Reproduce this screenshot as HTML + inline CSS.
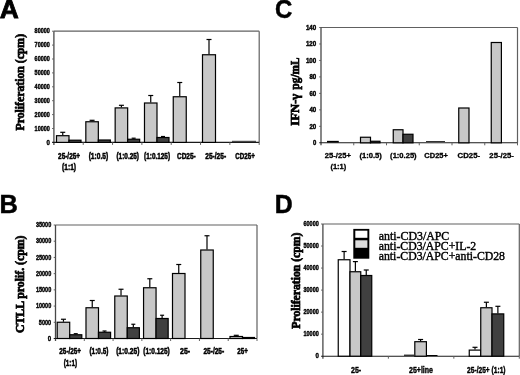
<!DOCTYPE html><html><head><meta charset="utf-8"><style>html,body{margin:0;padding:0;background:#fff}svg{display:block;filter:grayscale(1)}</style></head><body>
<svg width="520" height="375" viewBox="0 0 520 375">
<rect width="520" height="375" fill="#fff"/>
<text x="-0.30" y="18.30" font-size="26.4" text-anchor="start" font-weight="bold" font-family="Liberation Sans" stroke="#000" stroke-width="0.8">A</text>
<text x="-0.40" y="212.60" font-size="25.4" text-anchor="start" font-weight="bold" font-family="Liberation Sans" stroke="#000" stroke-width="0.5">B</text>
<text x="274.90" y="18.40" font-size="25.2" text-anchor="start" font-weight="bold" font-family="Liberation Sans" textLength="17.30" lengthAdjust="spacingAndGlyphs" stroke="#000" stroke-width="0.5">C</text>
<text x="274.80" y="212.60" font-size="25.3" text-anchor="start" font-weight="bold" font-family="Liberation Sans" textLength="17.90" lengthAdjust="spacingAndGlyphs" stroke="#000" stroke-width="0.5">D</text>
<line x1="53.90" y1="31.20" x2="259.20" y2="31.20" stroke="#606060" stroke-width="1.2"/>
<line x1="259.20" y1="31.20" x2="259.20" y2="142.40" stroke="#606060" stroke-width="1.2"/>
<line x1="53.90" y1="31.20" x2="53.90" y2="144.90" stroke="#484848" stroke-width="1.3"/>
<line x1="52.10" y1="142.40" x2="259.20" y2="142.40" stroke="#1a1a1a" stroke-width="1.1"/>
<line x1="83.23" y1="142.40" x2="83.23" y2="144.90" stroke="#606060" stroke-width="1"/>
<line x1="112.56" y1="142.40" x2="112.56" y2="144.90" stroke="#606060" stroke-width="1"/>
<line x1="141.89" y1="142.40" x2="141.89" y2="144.90" stroke="#606060" stroke-width="1"/>
<line x1="171.21" y1="142.40" x2="171.21" y2="144.90" stroke="#606060" stroke-width="1"/>
<line x1="200.54" y1="142.40" x2="200.54" y2="144.90" stroke="#606060" stroke-width="1"/>
<line x1="229.87" y1="142.40" x2="229.87" y2="144.90" stroke="#606060" stroke-width="1"/>
<line x1="259.20" y1="142.40" x2="259.20" y2="144.90" stroke="#606060" stroke-width="1"/>
<line x1="52.10" y1="128.50" x2="53.90" y2="128.50" stroke="#606060" stroke-width="1"/>
<line x1="52.10" y1="114.60" x2="53.90" y2="114.60" stroke="#606060" stroke-width="1"/>
<line x1="52.10" y1="100.70" x2="53.90" y2="100.70" stroke="#606060" stroke-width="1"/>
<line x1="52.10" y1="86.80" x2="53.90" y2="86.80" stroke="#606060" stroke-width="1"/>
<line x1="52.10" y1="72.90" x2="53.90" y2="72.90" stroke="#606060" stroke-width="1"/>
<line x1="52.10" y1="59.00" x2="53.90" y2="59.00" stroke="#606060" stroke-width="1"/>
<line x1="52.10" y1="45.10" x2="53.90" y2="45.10" stroke="#606060" stroke-width="1"/>
<line x1="52.10" y1="31.20" x2="53.90" y2="31.20" stroke="#606060" stroke-width="1"/>
<text x="49.90" y="144.65" font-size="7.9" text-anchor="end" font-weight="bold" font-family="Liberation Sans" textLength="3.40" lengthAdjust="spacingAndGlyphs" stroke="#000" stroke-width="0.45">0</text>
<text x="49.90" y="130.75" font-size="7.9" text-anchor="end" font-weight="bold" font-family="Liberation Sans" textLength="15.30" lengthAdjust="spacingAndGlyphs" stroke="#000" stroke-width="0.45">10000</text>
<text x="49.90" y="116.85" font-size="7.9" text-anchor="end" font-weight="bold" font-family="Liberation Sans" textLength="15.30" lengthAdjust="spacingAndGlyphs" stroke="#000" stroke-width="0.45">20000</text>
<text x="49.90" y="102.95" font-size="7.9" text-anchor="end" font-weight="bold" font-family="Liberation Sans" textLength="15.30" lengthAdjust="spacingAndGlyphs" stroke="#000" stroke-width="0.45">30000</text>
<text x="49.90" y="89.05" font-size="7.9" text-anchor="end" font-weight="bold" font-family="Liberation Sans" textLength="15.30" lengthAdjust="spacingAndGlyphs" stroke="#000" stroke-width="0.45">40000</text>
<text x="49.90" y="75.15" font-size="7.9" text-anchor="end" font-weight="bold" font-family="Liberation Sans" textLength="15.30" lengthAdjust="spacingAndGlyphs" stroke="#000" stroke-width="0.45">50000</text>
<text x="49.90" y="61.25" font-size="7.9" text-anchor="end" font-weight="bold" font-family="Liberation Sans" textLength="15.30" lengthAdjust="spacingAndGlyphs" stroke="#000" stroke-width="0.45">60000</text>
<text x="49.90" y="47.35" font-size="7.9" text-anchor="end" font-weight="bold" font-family="Liberation Sans" textLength="15.30" lengthAdjust="spacingAndGlyphs" stroke="#000" stroke-width="0.45">70000</text>
<text x="49.90" y="33.45" font-size="7.9" text-anchor="end" font-weight="bold" font-family="Liberation Sans" textLength="15.30" lengthAdjust="spacingAndGlyphs" stroke="#000" stroke-width="0.45">80000</text>
<line x1="62.75" y1="132.30" x2="62.75" y2="135.20" stroke="#000" stroke-width="1.2"/>
<line x1="60.25" y1="132.30" x2="65.25" y2="132.30" stroke="#000" stroke-width="1.2"/>
<rect x="56.50" y="135.70" width="12.50" height="6.70" fill="#c8c8c8" stroke="#000" stroke-width="1.2"/>
<rect x="69.00" y="140.20" width="12.00" height="2.20" fill="#404040" stroke="#000" stroke-width="1.2"/>
<line x1="92.08" y1="120.30" x2="92.08" y2="121.25" stroke="#000" stroke-width="1.2"/>
<line x1="89.58" y1="120.30" x2="94.58" y2="120.30" stroke="#000" stroke-width="1.2"/>
<rect x="85.83" y="121.75" width="12.50" height="20.65" fill="#c8c8c8" stroke="#000" stroke-width="1.2"/>
<rect x="98.33" y="140.00" width="12.00" height="2.40" fill="#404040" stroke="#000" stroke-width="1.2"/>
<line x1="121.41" y1="105.30" x2="121.41" y2="107.40" stroke="#000" stroke-width="1.2"/>
<line x1="118.91" y1="105.30" x2="123.91" y2="105.30" stroke="#000" stroke-width="1.2"/>
<rect x="115.16" y="107.90" width="12.50" height="34.50" fill="#c8c8c8" stroke="#000" stroke-width="1.2"/>
<line x1="133.66" y1="138.20" x2="133.66" y2="138.75" stroke="#000" stroke-width="1.2"/>
<line x1="131.66" y1="138.20" x2="135.66" y2="138.20" stroke="#000" stroke-width="1.2"/>
<rect x="127.66" y="139.25" width="12.00" height="3.15" fill="#404040" stroke="#000" stroke-width="1.2"/>
<line x1="150.74" y1="95.50" x2="150.74" y2="102.50" stroke="#000" stroke-width="1.2"/>
<line x1="148.24" y1="95.50" x2="153.24" y2="95.50" stroke="#000" stroke-width="1.2"/>
<rect x="144.49" y="103.00" width="12.50" height="39.40" fill="#c8c8c8" stroke="#000" stroke-width="1.2"/>
<line x1="162.99" y1="136.50" x2="162.99" y2="137.00" stroke="#000" stroke-width="1.2"/>
<line x1="160.99" y1="136.50" x2="164.99" y2="136.50" stroke="#000" stroke-width="1.2"/>
<rect x="156.99" y="137.50" width="12.00" height="4.90" fill="#404040" stroke="#000" stroke-width="1.2"/>
<line x1="179.75" y1="82.50" x2="179.75" y2="96.25" stroke="#000" stroke-width="1.2"/>
<line x1="177.25" y1="82.50" x2="182.25" y2="82.50" stroke="#000" stroke-width="1.2"/>
<rect x="173.25" y="96.75" width="13.00" height="45.65" fill="#c8c8c8" stroke="#000" stroke-width="1.2"/>
<line x1="209.00" y1="39.50" x2="209.00" y2="54.25" stroke="#000" stroke-width="1.2"/>
<line x1="206.50" y1="39.50" x2="211.50" y2="39.50" stroke="#000" stroke-width="1.2"/>
<rect x="202.50" y="54.75" width="13.00" height="87.65" fill="#c8c8c8" stroke="#000" stroke-width="1.2"/>
<line x1="232.00" y1="141.30" x2="256.00" y2="141.30" stroke="#000" stroke-width="0.8"/>
<text x="69.06" y="158.70" font-size="8.5" text-anchor="middle" font-weight="bold" font-family="Liberation Sans" textLength="22.00" lengthAdjust="spacingAndGlyphs" stroke="#000" stroke-width="0.5">25-/25+</text>
<text x="98.39" y="158.70" font-size="8.5" text-anchor="middle" font-weight="bold" font-family="Liberation Sans" textLength="19.50" lengthAdjust="spacingAndGlyphs" stroke="#000" stroke-width="0.5">(1:0.5)</text>
<text x="127.72" y="158.70" font-size="8.5" text-anchor="middle" font-weight="bold" font-family="Liberation Sans" textLength="22.50" lengthAdjust="spacingAndGlyphs" stroke="#000" stroke-width="0.5">(1:0.25)</text>
<text x="157.05" y="158.70" font-size="8.5" text-anchor="middle" font-weight="bold" font-family="Liberation Sans" textLength="26.00" lengthAdjust="spacingAndGlyphs" stroke="#000" stroke-width="0.5">(1:0.125)</text>
<text x="186.38" y="158.70" font-size="8.5" text-anchor="middle" font-weight="bold" font-family="Liberation Sans" textLength="18.75" lengthAdjust="spacingAndGlyphs" stroke="#000" stroke-width="0.5">CD25-</text>
<text x="215.71" y="158.70" font-size="8.5" text-anchor="middle" font-weight="bold" font-family="Liberation Sans" textLength="20.75" lengthAdjust="spacingAndGlyphs" stroke="#000" stroke-width="0.5">25-/25-</text>
<text x="245.04" y="158.70" font-size="8.5" text-anchor="middle" font-weight="bold" font-family="Liberation Sans" textLength="19.50" lengthAdjust="spacingAndGlyphs" stroke="#000" stroke-width="0.5">CD25+</text>
<text x="69.06" y="169.60" font-size="8.5" text-anchor="middle" font-weight="bold" font-family="Liberation Sans" textLength="14.00" lengthAdjust="spacingAndGlyphs" stroke="#000" stroke-width="0.5">(1:1)</text>
<text transform="translate(24.20,82.20) rotate(-90)" font-size="12" text-anchor="middle" font-weight="bold" font-family="Liberation Serif" stroke="#000" stroke-width="0.7" textLength="96.50" lengthAdjust="spacingAndGlyphs">Proliferation (cpm)</text>
<line x1="55.50" y1="225.00" x2="257.00" y2="225.00" stroke="#606060" stroke-width="1.2"/>
<line x1="257.00" y1="225.00" x2="257.00" y2="338.50" stroke="#606060" stroke-width="1.2"/>
<line x1="55.50" y1="225.00" x2="55.50" y2="341.00" stroke="#484848" stroke-width="1.3"/>
<line x1="53.70" y1="338.50" x2="257.00" y2="338.50" stroke="#1a1a1a" stroke-width="1.1"/>
<line x1="84.29" y1="338.50" x2="84.29" y2="341.00" stroke="#606060" stroke-width="1"/>
<line x1="113.07" y1="338.50" x2="113.07" y2="341.00" stroke="#606060" stroke-width="1"/>
<line x1="141.86" y1="338.50" x2="141.86" y2="341.00" stroke="#606060" stroke-width="1"/>
<line x1="170.64" y1="338.50" x2="170.64" y2="341.00" stroke="#606060" stroke-width="1"/>
<line x1="199.43" y1="338.50" x2="199.43" y2="341.00" stroke="#606060" stroke-width="1"/>
<line x1="228.21" y1="338.50" x2="228.21" y2="341.00" stroke="#606060" stroke-width="1"/>
<line x1="257.00" y1="338.50" x2="257.00" y2="341.00" stroke="#606060" stroke-width="1"/>
<line x1="53.70" y1="322.29" x2="55.50" y2="322.29" stroke="#606060" stroke-width="1"/>
<line x1="53.70" y1="306.07" x2="55.50" y2="306.07" stroke="#606060" stroke-width="1"/>
<line x1="53.70" y1="289.86" x2="55.50" y2="289.86" stroke="#606060" stroke-width="1"/>
<line x1="53.70" y1="273.64" x2="55.50" y2="273.64" stroke="#606060" stroke-width="1"/>
<line x1="53.70" y1="257.43" x2="55.50" y2="257.43" stroke="#606060" stroke-width="1"/>
<line x1="53.70" y1="241.21" x2="55.50" y2="241.21" stroke="#606060" stroke-width="1"/>
<line x1="53.70" y1="225.00" x2="55.50" y2="225.00" stroke="#606060" stroke-width="1"/>
<text x="51.20" y="340.75" font-size="7.9" text-anchor="end" font-weight="bold" font-family="Liberation Sans" textLength="3.40" lengthAdjust="spacingAndGlyphs" stroke="#000" stroke-width="0.45">0</text>
<text x="51.20" y="324.54" font-size="7.9" text-anchor="end" font-weight="bold" font-family="Liberation Sans" textLength="12.40" lengthAdjust="spacingAndGlyphs" stroke="#000" stroke-width="0.45">5000</text>
<text x="51.20" y="308.32" font-size="7.9" text-anchor="end" font-weight="bold" font-family="Liberation Sans" textLength="15.30" lengthAdjust="spacingAndGlyphs" stroke="#000" stroke-width="0.45">10000</text>
<text x="51.20" y="292.11" font-size="7.9" text-anchor="end" font-weight="bold" font-family="Liberation Sans" textLength="15.30" lengthAdjust="spacingAndGlyphs" stroke="#000" stroke-width="0.45">15000</text>
<text x="51.20" y="275.89" font-size="7.9" text-anchor="end" font-weight="bold" font-family="Liberation Sans" textLength="15.30" lengthAdjust="spacingAndGlyphs" stroke="#000" stroke-width="0.45">20000</text>
<text x="51.20" y="259.68" font-size="7.9" text-anchor="end" font-weight="bold" font-family="Liberation Sans" textLength="15.30" lengthAdjust="spacingAndGlyphs" stroke="#000" stroke-width="0.45">25000</text>
<text x="51.20" y="243.46" font-size="7.9" text-anchor="end" font-weight="bold" font-family="Liberation Sans" textLength="15.30" lengthAdjust="spacingAndGlyphs" stroke="#000" stroke-width="0.45">30000</text>
<text x="51.20" y="227.25" font-size="7.9" text-anchor="end" font-weight="bold" font-family="Liberation Sans" textLength="15.30" lengthAdjust="spacingAndGlyphs" stroke="#000" stroke-width="0.45">35000</text>
<line x1="63.45" y1="319.25" x2="63.45" y2="321.75" stroke="#000" stroke-width="1.2"/>
<line x1="60.95" y1="319.25" x2="65.95" y2="319.25" stroke="#000" stroke-width="1.2"/>
<rect x="57.20" y="322.25" width="12.50" height="16.25" fill="#c8c8c8" stroke="#000" stroke-width="1.2"/>
<line x1="75.75" y1="333.70" x2="75.75" y2="334.25" stroke="#000" stroke-width="1.2"/>
<line x1="73.75" y1="333.70" x2="77.75" y2="333.70" stroke="#000" stroke-width="1.2"/>
<rect x="69.70" y="334.75" width="12.10" height="3.75" fill="#404040" stroke="#000" stroke-width="1.2"/>
<line x1="92.24" y1="300.50" x2="92.24" y2="307.25" stroke="#000" stroke-width="1.2"/>
<line x1="89.74" y1="300.50" x2="94.74" y2="300.50" stroke="#000" stroke-width="1.2"/>
<rect x="85.99" y="307.75" width="12.50" height="30.75" fill="#c8c8c8" stroke="#000" stroke-width="1.2"/>
<line x1="104.54" y1="331.00" x2="104.54" y2="331.75" stroke="#000" stroke-width="1.2"/>
<line x1="102.54" y1="331.00" x2="106.54" y2="331.00" stroke="#000" stroke-width="1.2"/>
<rect x="98.49" y="332.25" width="12.10" height="6.25" fill="#404040" stroke="#000" stroke-width="1.2"/>
<line x1="121.02" y1="289.25" x2="121.02" y2="295.50" stroke="#000" stroke-width="1.2"/>
<line x1="118.52" y1="289.25" x2="123.52" y2="289.25" stroke="#000" stroke-width="1.2"/>
<rect x="114.77" y="296.00" width="12.50" height="42.50" fill="#c8c8c8" stroke="#000" stroke-width="1.2"/>
<line x1="133.32" y1="324.25" x2="133.32" y2="327.25" stroke="#000" stroke-width="1.2"/>
<line x1="131.32" y1="324.25" x2="135.32" y2="324.25" stroke="#000" stroke-width="1.2"/>
<rect x="127.27" y="327.75" width="12.10" height="10.75" fill="#404040" stroke="#000" stroke-width="1.2"/>
<line x1="149.81" y1="278.75" x2="149.81" y2="287.25" stroke="#000" stroke-width="1.2"/>
<line x1="147.31" y1="278.75" x2="152.31" y2="278.75" stroke="#000" stroke-width="1.2"/>
<rect x="143.56" y="287.75" width="12.50" height="50.75" fill="#c8c8c8" stroke="#000" stroke-width="1.2"/>
<line x1="162.11" y1="315.25" x2="162.11" y2="318.00" stroke="#000" stroke-width="1.2"/>
<line x1="160.11" y1="315.25" x2="164.11" y2="315.25" stroke="#000" stroke-width="1.2"/>
<rect x="156.06" y="318.50" width="12.10" height="20.00" fill="#404040" stroke="#000" stroke-width="1.2"/>
<line x1="178.75" y1="264.50" x2="178.75" y2="273.00" stroke="#000" stroke-width="1.2"/>
<line x1="176.25" y1="264.50" x2="181.25" y2="264.50" stroke="#000" stroke-width="1.2"/>
<rect x="172.50" y="273.50" width="12.50" height="65.00" fill="#c8c8c8" stroke="#000" stroke-width="1.2"/>
<line x1="207.00" y1="235.75" x2="207.00" y2="249.50" stroke="#000" stroke-width="1.2"/>
<line x1="204.50" y1="235.75" x2="209.50" y2="235.75" stroke="#000" stroke-width="1.2"/>
<rect x="200.75" y="250.00" width="12.50" height="88.50" fill="#c8c8c8" stroke="#000" stroke-width="1.2"/>
<line x1="236.25" y1="335.30" x2="236.25" y2="336.00" stroke="#000" stroke-width="1.2"/>
<line x1="233.75" y1="335.30" x2="238.75" y2="335.30" stroke="#000" stroke-width="1.2"/>
<rect x="230.00" y="336.50" width="12.50" height="2.00" fill="#c8c8c8" stroke="#000" stroke-width="1.2"/>
<rect x="242.50" y="337.50" width="12.00" height="1.00" fill="#404040" stroke="#000" stroke-width="1.2"/>
<text x="70.19" y="354.30" font-size="8.5" text-anchor="middle" font-weight="bold" font-family="Liberation Sans" textLength="21.75" lengthAdjust="spacingAndGlyphs" stroke="#000" stroke-width="0.5">25-/25+</text>
<text x="98.98" y="354.30" font-size="8.5" text-anchor="middle" font-weight="bold" font-family="Liberation Sans" textLength="19.00" lengthAdjust="spacingAndGlyphs" stroke="#000" stroke-width="0.5">(1:0.5)</text>
<text x="127.76" y="354.30" font-size="8.5" text-anchor="middle" font-weight="bold" font-family="Liberation Sans" textLength="23.25" lengthAdjust="spacingAndGlyphs" stroke="#000" stroke-width="0.5">(1:0.25)</text>
<text x="156.55" y="354.30" font-size="8.5" text-anchor="middle" font-weight="bold" font-family="Liberation Sans" textLength="26.50" lengthAdjust="spacingAndGlyphs" stroke="#000" stroke-width="0.5">(1:0.125)</text>
<text x="185.04" y="354.30" font-size="8.5" text-anchor="middle" font-weight="bold" font-family="Liberation Sans" textLength="10.00" lengthAdjust="spacingAndGlyphs" stroke="#000" stroke-width="0.5">25-</text>
<text x="213.82" y="354.30" font-size="8.5" text-anchor="middle" font-weight="bold" font-family="Liberation Sans" textLength="20.75" lengthAdjust="spacingAndGlyphs" stroke="#000" stroke-width="0.5">25-/25-</text>
<text x="242.61" y="354.30" font-size="8.5" text-anchor="middle" font-weight="bold" font-family="Liberation Sans" textLength="10.50" lengthAdjust="spacingAndGlyphs" stroke="#000" stroke-width="0.5">25+</text>
<text x="70.39" y="366.20" font-size="8.5" text-anchor="middle" font-weight="bold" font-family="Liberation Sans" textLength="13.25" lengthAdjust="spacingAndGlyphs" stroke="#000" stroke-width="0.5">(1:1)</text>
<text transform="translate(24.20,284.30) rotate(-90)" font-size="12" text-anchor="middle" font-weight="bold" font-family="Liberation Serif" stroke="#000" stroke-width="0.7" textLength="97.50" lengthAdjust="spacingAndGlyphs">CTLL prolif. (cpm)</text>
<line x1="321.00" y1="27.50" x2="517.50" y2="27.50" stroke="#606060" stroke-width="1.2"/>
<line x1="517.50" y1="27.50" x2="517.50" y2="142.80" stroke="#606060" stroke-width="1.2"/>
<line x1="321.00" y1="27.50" x2="321.00" y2="145.30" stroke="#484848" stroke-width="1.3"/>
<line x1="319.20" y1="142.80" x2="517.50" y2="142.80" stroke="#1a1a1a" stroke-width="1.1"/>
<line x1="353.75" y1="142.80" x2="353.75" y2="145.30" stroke="#606060" stroke-width="1"/>
<line x1="386.50" y1="142.80" x2="386.50" y2="145.30" stroke="#606060" stroke-width="1"/>
<line x1="419.25" y1="142.80" x2="419.25" y2="145.30" stroke="#606060" stroke-width="1"/>
<line x1="452.00" y1="142.80" x2="452.00" y2="145.30" stroke="#606060" stroke-width="1"/>
<line x1="484.75" y1="142.80" x2="484.75" y2="145.30" stroke="#606060" stroke-width="1"/>
<line x1="517.50" y1="142.80" x2="517.50" y2="145.30" stroke="#606060" stroke-width="1"/>
<line x1="319.20" y1="126.33" x2="321.00" y2="126.33" stroke="#606060" stroke-width="1"/>
<line x1="319.20" y1="109.86" x2="321.00" y2="109.86" stroke="#606060" stroke-width="1"/>
<line x1="319.20" y1="93.39" x2="321.00" y2="93.39" stroke="#606060" stroke-width="1"/>
<line x1="319.20" y1="76.91" x2="321.00" y2="76.91" stroke="#606060" stroke-width="1"/>
<line x1="319.20" y1="60.44" x2="321.00" y2="60.44" stroke="#606060" stroke-width="1"/>
<line x1="319.20" y1="43.97" x2="321.00" y2="43.97" stroke="#606060" stroke-width="1"/>
<line x1="319.20" y1="27.50" x2="321.00" y2="27.50" stroke="#606060" stroke-width="1"/>
<text x="316.20" y="145.20" font-size="7.2" text-anchor="end" font-weight="bold" font-family="Liberation Sans" textLength="3.30" lengthAdjust="spacingAndGlyphs" stroke="#000" stroke-width="0.45">0</text>
<text x="316.20" y="128.73" font-size="7.2" text-anchor="end" font-weight="bold" font-family="Liberation Sans" textLength="6.80" lengthAdjust="spacingAndGlyphs" stroke="#000" stroke-width="0.45">20</text>
<text x="316.20" y="112.26" font-size="7.2" text-anchor="end" font-weight="bold" font-family="Liberation Sans" textLength="6.80" lengthAdjust="spacingAndGlyphs" stroke="#000" stroke-width="0.45">40</text>
<text x="316.20" y="95.79" font-size="7.2" text-anchor="end" font-weight="bold" font-family="Liberation Sans" textLength="6.80" lengthAdjust="spacingAndGlyphs" stroke="#000" stroke-width="0.45">60</text>
<text x="316.20" y="79.31" font-size="7.2" text-anchor="end" font-weight="bold" font-family="Liberation Sans" textLength="6.80" lengthAdjust="spacingAndGlyphs" stroke="#000" stroke-width="0.45">80</text>
<text x="316.20" y="62.84" font-size="7.2" text-anchor="end" font-weight="bold" font-family="Liberation Sans" textLength="10.30" lengthAdjust="spacingAndGlyphs" stroke="#000" stroke-width="0.45">100</text>
<text x="316.20" y="46.37" font-size="7.2" text-anchor="end" font-weight="bold" font-family="Liberation Sans" textLength="10.30" lengthAdjust="spacingAndGlyphs" stroke="#000" stroke-width="0.45">120</text>
<text x="316.20" y="29.90" font-size="7.2" text-anchor="end" font-weight="bold" font-family="Liberation Sans" textLength="10.30" lengthAdjust="spacingAndGlyphs" stroke="#000" stroke-width="0.45">140</text>
<line x1="327.00" y1="141.70" x2="338.80" y2="141.70" stroke="#000" stroke-width="1.7"/>
<rect x="360.50" y="137.25" width="10.00" height="5.55" fill="#c8c8c8" stroke="#000" stroke-width="1.2"/>
<rect x="370.50" y="141.25" width="9.50" height="1.55" fill="#404040" stroke="#000" stroke-width="1.2"/>
<rect x="393.25" y="129.75" width="9.75" height="13.05" fill="#c8c8c8" stroke="#000" stroke-width="1.2"/>
<rect x="403.00" y="134.25" width="10.00" height="8.55" fill="#404040" stroke="#000" stroke-width="1.2"/>
<line x1="426.00" y1="141.50" x2="445.00" y2="141.50" stroke="#000" stroke-width="0.8"/>
<rect x="458.75" y="108.00" width="10.25" height="34.80" fill="#c8c8c8" stroke="#000" stroke-width="1.2"/>
<rect x="491.25" y="42.50" width="10.15" height="100.30" fill="#c8c8c8" stroke="#000" stroke-width="1.2"/>
<text x="337.88" y="157.70" font-size="7.3" text-anchor="middle" font-weight="bold" font-family="Liberation Sans" textLength="26.00" lengthAdjust="spacingAndGlyphs" stroke="#000" stroke-width="0.3">25-/25+</text>
<text x="370.62" y="157.70" font-size="7.3" text-anchor="middle" font-weight="bold" font-family="Liberation Sans" textLength="22.40" lengthAdjust="spacingAndGlyphs" stroke="#000" stroke-width="0.3">(1:0.5)</text>
<text x="403.38" y="157.70" font-size="7.3" text-anchor="middle" font-weight="bold" font-family="Liberation Sans" textLength="26.50" lengthAdjust="spacingAndGlyphs" stroke="#000" stroke-width="0.3">(1:0.25)</text>
<text x="436.12" y="157.70" font-size="7.3" text-anchor="middle" font-weight="bold" font-family="Liberation Sans" textLength="23.50" lengthAdjust="spacingAndGlyphs" stroke="#000" stroke-width="0.3">CD25+</text>
<text x="468.88" y="157.70" font-size="7.3" text-anchor="middle" font-weight="bold" font-family="Liberation Sans" textLength="22.50" lengthAdjust="spacingAndGlyphs" stroke="#000" stroke-width="0.3">CD25-</text>
<text x="501.62" y="157.70" font-size="7.3" text-anchor="middle" font-weight="bold" font-family="Liberation Sans" textLength="24.50" lengthAdjust="spacingAndGlyphs" stroke="#000" stroke-width="0.3">25-/25-</text>
<text x="338.38" y="168.80" font-size="7.3" text-anchor="middle" font-weight="bold" font-family="Liberation Sans" textLength="15.80" lengthAdjust="spacingAndGlyphs" stroke="#000" stroke-width="0.3">(1:1)</text>
<text transform="translate(298.70,109.70) rotate(-90)" font-size="12" text-anchor="middle" font-weight="bold" font-family="Liberation Serif" stroke="#000" stroke-width="0.7" textLength="32.00" lengthAdjust="spacingAndGlyphs">IFN-γ</text>
<text transform="translate(298.70,73.50) rotate(-90)" font-size="12" text-anchor="middle" font-weight="bold" font-family="Liberation Serif" stroke="#000" stroke-width="0.7" textLength="31.80" lengthAdjust="spacingAndGlyphs">pg/mL</text>
<line x1="322.90" y1="224.00" x2="519.30" y2="224.00" stroke="#606060" stroke-width="1.2"/>
<line x1="519.30" y1="224.00" x2="519.30" y2="356.20" stroke="#606060" stroke-width="1.2"/>
<line x1="322.90" y1="224.00" x2="322.90" y2="358.70" stroke="#484848" stroke-width="1.3"/>
<line x1="321.10" y1="356.20" x2="519.30" y2="356.20" stroke="#1a1a1a" stroke-width="1.1"/>
<line x1="388.37" y1="356.20" x2="388.37" y2="358.70" stroke="#606060" stroke-width="1"/>
<line x1="453.83" y1="356.20" x2="453.83" y2="358.70" stroke="#606060" stroke-width="1"/>
<line x1="519.30" y1="356.20" x2="519.30" y2="358.70" stroke="#606060" stroke-width="1"/>
<line x1="321.10" y1="334.17" x2="322.90" y2="334.17" stroke="#606060" stroke-width="1"/>
<line x1="321.10" y1="312.13" x2="322.90" y2="312.13" stroke="#606060" stroke-width="1"/>
<line x1="321.10" y1="290.10" x2="322.90" y2="290.10" stroke="#606060" stroke-width="1"/>
<line x1="321.10" y1="268.07" x2="322.90" y2="268.07" stroke="#606060" stroke-width="1"/>
<line x1="321.10" y1="246.03" x2="322.90" y2="246.03" stroke="#606060" stroke-width="1"/>
<line x1="321.10" y1="224.00" x2="322.90" y2="224.00" stroke="#606060" stroke-width="1"/>
<text x="318.80" y="358.45" font-size="7.9" text-anchor="end" font-weight="bold" font-family="Liberation Sans" textLength="3.40" lengthAdjust="spacingAndGlyphs" stroke="#000" stroke-width="0.45">0</text>
<text x="318.80" y="336.42" font-size="7.9" text-anchor="end" font-weight="bold" font-family="Liberation Sans" textLength="15.30" lengthAdjust="spacingAndGlyphs" stroke="#000" stroke-width="0.45">10000</text>
<text x="318.80" y="314.38" font-size="7.9" text-anchor="end" font-weight="bold" font-family="Liberation Sans" textLength="15.30" lengthAdjust="spacingAndGlyphs" stroke="#000" stroke-width="0.45">20000</text>
<text x="318.80" y="292.35" font-size="7.9" text-anchor="end" font-weight="bold" font-family="Liberation Sans" textLength="15.30" lengthAdjust="spacingAndGlyphs" stroke="#000" stroke-width="0.45">30000</text>
<text x="318.80" y="270.32" font-size="7.9" text-anchor="end" font-weight="bold" font-family="Liberation Sans" textLength="15.30" lengthAdjust="spacingAndGlyphs" stroke="#000" stroke-width="0.45">40000</text>
<text x="318.80" y="248.28" font-size="7.9" text-anchor="end" font-weight="bold" font-family="Liberation Sans" textLength="15.30" lengthAdjust="spacingAndGlyphs" stroke="#000" stroke-width="0.45">50000</text>
<text x="318.80" y="226.25" font-size="7.9" text-anchor="end" font-weight="bold" font-family="Liberation Sans" textLength="15.30" lengthAdjust="spacingAndGlyphs" stroke="#000" stroke-width="0.45">60000</text>
<line x1="344.12" y1="251.50" x2="344.12" y2="259.25" stroke="#000" stroke-width="1.2"/>
<line x1="341.62" y1="251.50" x2="346.62" y2="251.50" stroke="#000" stroke-width="1.2"/>
<rect x="338.25" y="259.75" width="11.75" height="96.45" fill="#ffffff" stroke="#000" stroke-width="1.2"/>
<line x1="355.38" y1="261.60" x2="355.38" y2="271.25" stroke="#000" stroke-width="1.2"/>
<line x1="352.88" y1="261.60" x2="357.88" y2="261.60" stroke="#000" stroke-width="1.2"/>
<rect x="350.00" y="271.75" width="10.75" height="84.45" fill="#c8c8c8" stroke="#000" stroke-width="1.2"/>
<line x1="366.25" y1="270.00" x2="366.25" y2="275.00" stroke="#000" stroke-width="1.2"/>
<line x1="363.75" y1="270.00" x2="368.75" y2="270.00" stroke="#000" stroke-width="1.2"/>
<rect x="360.75" y="275.50" width="11.00" height="80.70" fill="#404040" stroke="#000" stroke-width="1.2"/>
<line x1="404.00" y1="355.20" x2="414.00" y2="355.20" stroke="#000" stroke-width="1.1"/>
<line x1="420.60" y1="339.50" x2="420.60" y2="341.20" stroke="#000" stroke-width="1.2"/>
<line x1="418.10" y1="339.50" x2="423.10" y2="339.50" stroke="#000" stroke-width="1.2"/>
<rect x="414.80" y="341.70" width="11.60" height="14.50" fill="#c8c8c8" stroke="#000" stroke-width="1.2"/>
<line x1="427.00" y1="355.50" x2="437.50" y2="355.50" stroke="#000" stroke-width="1"/>
<line x1="475.00" y1="347.30" x2="475.00" y2="349.60" stroke="#000" stroke-width="1.2"/>
<line x1="472.50" y1="347.30" x2="477.50" y2="347.30" stroke="#000" stroke-width="1.2"/>
<rect x="469.25" y="350.10" width="11.50" height="6.10" fill="#ffffff" stroke="#000" stroke-width="1.2"/>
<line x1="486.38" y1="302.25" x2="486.38" y2="307.25" stroke="#000" stroke-width="1.2"/>
<line x1="483.88" y1="302.25" x2="488.88" y2="302.25" stroke="#000" stroke-width="1.2"/>
<rect x="480.75" y="307.75" width="11.25" height="48.45" fill="#c8c8c8" stroke="#000" stroke-width="1.2"/>
<line x1="497.88" y1="306.30" x2="497.88" y2="313.40" stroke="#000" stroke-width="1.2"/>
<line x1="495.38" y1="306.30" x2="500.38" y2="306.30" stroke="#000" stroke-width="1.2"/>
<rect x="492.00" y="313.90" width="11.75" height="42.30" fill="#404040" stroke="#000" stroke-width="1.2"/>
<text x="356.10" y="373.00" font-size="9" text-anchor="middle" font-weight="bold" font-family="Liberation Sans" textLength="10.20" lengthAdjust="spacingAndGlyphs" stroke="#000" stroke-width="0.4">25-</text>
<text x="421.00" y="373.00" font-size="9" text-anchor="middle" font-weight="bold" font-family="Liberation Sans" textLength="24.00" lengthAdjust="spacingAndGlyphs" stroke="#000" stroke-width="0.4">25+line</text>
<text x="486.30" y="373.00" font-size="9" text-anchor="middle" font-weight="bold" font-family="Liberation Sans" textLength="38.50" lengthAdjust="spacingAndGlyphs" stroke="#000" stroke-width="0.4">25-/25+ (1:1)</text>
<text transform="translate(299.70,280.70) rotate(-90)" font-size="12" text-anchor="middle" font-weight="bold" font-family="Liberation Serif" stroke="#000" stroke-width="0.7" textLength="96.00" lengthAdjust="spacingAndGlyphs">Proliferation (cpm)</text>
<rect x="353.3" y="228.9" width="16" height="29.8" fill="#000"/>
<rect x="355.3" y="230.7" width="12.1" height="7.1" fill="#fff"/>
<rect x="355.3" y="240.3" width="12.1" height="7.5" fill="#dedede"/>
<text x="378.75" y="240.20" font-size="11.8" text-anchor="start" font-weight="normal" font-family="Liberation Serif" textLength="70.50" lengthAdjust="spacingAndGlyphs" stroke="#000" stroke-width="0.4">anti-CD3/APC</text>
<text x="378.75" y="249.90" font-size="11.8" text-anchor="start" font-weight="normal" font-family="Liberation Serif" textLength="97.50" lengthAdjust="spacingAndGlyphs" stroke="#000" stroke-width="0.4">anti-CD3/APC+IL-2</text>
<text x="378.75" y="259.60" font-size="11.8" text-anchor="start" font-weight="normal" font-family="Liberation Serif" textLength="126.25" lengthAdjust="spacingAndGlyphs" stroke="#000" stroke-width="0.4">anti-CD3/APC+anti-CD28</text>
</svg></body></html>
